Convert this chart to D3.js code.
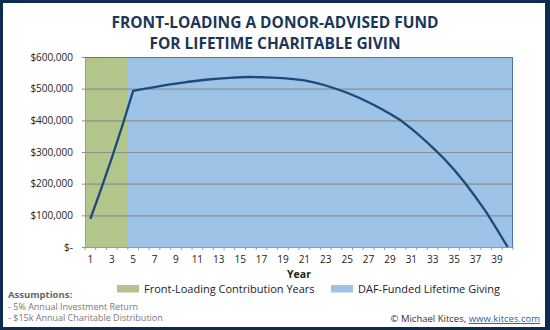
<!DOCTYPE html>
<html>
<head>
<meta charset="utf-8">
<script src="https://cdn.jsdelivr.net/npm/d3@7"></script>
<style>
  body { margin: 0; background: #fff; }
  text { font-family: "Open Sans", sans-serif; }
</style>
</head>
<body>
<script>
// chart data
var years = d3.range(1, 41);
var balance = [89, 183, 281, 384, 493, 499, 505, 511, 516, 521,
               525, 529, 532, 534, 536, 537, 536, 535, 533, 530,
               526, 519, 510, 499, 487, 473, 457, 440, 421, 400,
               374, 345, 314, 281, 244, 203, 158, 110, 56, 0];
var frontYears = [1, 2, 3, 4];
var yTicks = [0, 100000, 200000, 300000, 400000, 500000, 600000];
var titleLines = ["FRONT-LOADING A DONOR-ADVISED FUND", "FOR LIFETIME CHARITABLE GIVIN"];
var legendItems = [
  {label: "Front-Loading Contribution Years", color: "#b2c58a"},
  {label: "DAF-Funded Lifetime Giving", color: "#9dc3e6"}
];
var assumptions = ["- 5% Annual Investment Return", "- $15k Annual Charitable Distribution"];

var width = 550, height = 330;
var margin = {top: 57, right: 37, bottom: 83, left: 85};

var svg = d3.select("body").append("svg")
    .attr("width", width)
    .attr("height", height);

// frame
svg.append("rect").attr("width", width).attr("height", height).attr("fill", "#0c2c50");
svg.append("rect").attr("x", 3).attr("y", 3).attr("width", 542).attr("height", 324).attr("fill", "#fff");

// title
svg.selectAll(".title")
    .data(titleLines)
  .enter().append("text")
    .attr("class", "title")
    .attr("x", 275)
    .attr("y", function(d, i) { return 28 + i * 20.5; })
    .attr("text-anchor", "middle")
    .attr("fill", "#1b3658")
    .attr("font-family", "'Liberation Sans', sans-serif")
    .attr("font-size", 15.5)
    .attr("font-weight", 700)
    .text(function(d) { return d; });

var x = d3.scaleBand()
    .domain(years)
    .range([margin.left, width - margin.right])
    .padding(0);

var y = d3.scaleLinear()
    .domain([0, 600000])
    .range([height - margin.bottom, margin.top]);

// background bands
svg.append("rect")
    .attr("x", margin.left)
    .attr("y", y(600000))
    .attr("width", width - margin.right - margin.left)
    .attr("height", y(0) - y(600000))
    .attr("fill", legendItems[1].color);

svg.append("rect")
    .attr("x", x(frontYears[0]))
    .attr("y", y(600000))
    .attr("width", x(frontYears[frontYears.length - 1]) + x.bandwidth() - x(frontYears[0]))
    .attr("height", y(0) - y(600000))
    .attr("fill", legendItems[0].color);

// grid + y axis
svg.append("g")
    .attr("transform", "translate(" + margin.left + ",0)")
    .call(d3.axisLeft(y)
      .tickValues(yTicks)
      .tickSize(3)
      .tickPadding(9)
      .tickFormat(function(d) { return d === 0 ? "$-" : d3.format("$,")(d); }))
    .call(function(g) {
      g.select(".domain").attr("stroke", "#9a9a9a");
      g.selectAll(".tick line").attr("stroke", "#8e8e8e");
      g.selectAll(".tick text").attr("font-size", 10).attr("fill", "#222");
      g.selectAll(".tick").filter(function(d) { return d > 0; })
        .append("line")
          .attr("x2", width - margin.right - margin.left)
          .attr("stroke", "#8e8e8e")
          .attr("stroke-width", 1.2);
    });

// plot border top/right
svg.append("path")
    .attr("d", "M" + margin.left + "," + (y(600000) + 0.5) + "H" + (width - margin.right - 0.5) + "V" + y(0))
    .attr("fill", "none")
    .attr("stroke", "#4d77a3")
    .attr("stroke-width", 1);

// x axis
var xg = svg.append("g")
    .attr("transform", "translate(0," + y(0) + ")")
    .call(d3.axisBottom(x)
      .tickSize(0)
      .tickPadding(9)
      .tickFormat(function(d) { return d % 2 === 1 ? d : ""; }));
xg.select(".domain").attr("stroke", "#9a9a9a");
xg.selectAll(".tick text").attr("font-size", 10).attr("fill", "#222");
xg.selectAll(".boundary")
    .data(years.concat([41]))
  .enter().append("line")
    .attr("x1", function(d) { return d <= 40 ? x(d) : x(40) + x.bandwidth(); })
    .attr("x2", function(d) { return d <= 40 ? x(d) : x(40) + x.bandwidth(); })
    .attr("y1", 0).attr("y2", 3)
    .attr("stroke", "#9a9a9a");

svg.append("text")
    .attr("x", 299)
    .attr("y", 278)
    .attr("text-anchor", "middle")
    .attr("font-size", 10.5)
    .attr("font-weight", 700)
    .attr("fill", "#222")
    .text("Year");

// line
var line = d3.line()
    .x(function(d, i) { return x(years[i]) + x.bandwidth() / 2; })
    .y(function(d) { return y(d * 1000); });

svg.append("path")
    .datum(balance)
    .attr("fill", "none")
    .attr("stroke", "#1c4a7a")
    .attr("stroke-width", 2.3)
    .attr("stroke-linejoin", "round")
    .attr("d", line);

// legend
var legendX = [117, 331];
var leg = svg.selectAll(".legend")
    .data(legendItems)
  .enter().append("g")
    .attr("transform", function(d, i) { return "translate(" + legendX[i] + ",285)"; });
leg.append("rect")
    .attr("width", 22).attr("height", 7.5)
    .attr("fill", function(d) { return d.color; });
leg.append("text")
    .attr("x", 27).attr("y", 7.5)
    .attr("font-size", 11)
    .attr("fill", "#222")
    .text(function(d) { return d.label; });

// assumptions
svg.append("text")
    .attr("x", 8).attr("y", 298)
    .attr("font-family", "'Liberation Sans', sans-serif")
    .attr("font-size", 9.5)
    .attr("font-weight", 700)
    .attr("fill", "#666")
    .text("Assumptions:");
svg.selectAll(".assume")
    .data(assumptions)
  .enter().append("text")
    .attr("x", 8)
    .attr("y", function(d, i) { return 309.5 + i * 11.5; })
    .attr("font-family", "'Liberation Sans', sans-serif")
    .attr("font-size", 9)
    .attr("fill", "#777")
    .text(function(d) { return d; });

// credit
var credit = svg.append("text")
    .attr("x", 540).attr("y", 322)
    .attr("text-anchor", "end")
    .attr("font-size", 9.5)
    .attr("fill", "#333");
credit.append("tspan").text("© Michael Kitces, ");
credit.append("tspan")
    .attr("fill", "#1f5fae")
    .attr("text-decoration", "underline")
    .text("www.kitces.com");
</script>
</body>
</html>
